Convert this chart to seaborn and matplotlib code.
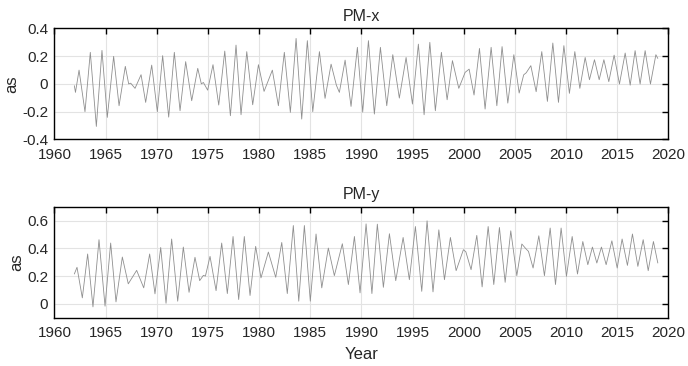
import warnings
warnings.filterwarnings("ignore")
import pandas as pd
import matplotlib
matplotlib.use("Agg")
import matplotlib.pyplot as plt
import seaborn as sns

# PM-x: turning points (year, arcsec)
pmx_year = [1961.94, 1962.05, 1962.40, 1962.98, 1963.50, 1964.09, 1964.64, 1965.16, 1965.78,
            1966.31, 1966.92, 1967.25, 1967.45, 1967.87, 1968.46, 1968.91, 1969.50, 1970.05,
            1970.57, 1971.16, 1971.71, 1972.27, 1972.82, 1973.41, 1974.00, 1974.35, 1974.55,
            1974.97, 1975.49, 1976.05, 1976.64, 1977.19, 1977.74, 1978.23, 1978.79, 1979.37,
            1979.93, 1980.48, 1981.29, 1981.88, 1982.46, 1983.05, 1983.61, 1984.16, 1984.71,
            1985.24, 1985.89, 1986.44, 1987.03, 1987.55, 1987.84, 1988.40, 1988.98, 1989.60,
            1990.12, 1990.68, 1991.26, 1991.85, 1992.47, 1993.06, 1993.70, 1994.36, 1994.98,
            1995.56, 1996.12, 1996.68, 1997.22, 1997.81, 1998.37, 1998.89, 1999.51, 2000.13,
            2000.52, 2001.00, 2001.53, 2002.08, 2002.67, 2003.23, 2003.74, 2004.30, 2004.89,
            2005.41, 2005.85, 2006.10, 2006.55, 2007.07, 2007.62, 2008.17, 2008.70, 2009.25,
            2009.78, 2010.32, 2010.85, 2011.34, 2011.86, 2012.28, 2012.77, 2013.23, 2013.69,
            2014.17, 2014.69, 2015.21, 2015.77, 2016.26, 2016.74, 2017.23, 2017.72, 2018.24,
            2018.77, 2018.96]
pmx_val = [-0.013, -0.061, 0.099, -0.200, 0.227, -0.306, 0.241, -0.241, 0.198,
           -0.157, 0.126, 0.000, 0.005, -0.032, 0.066, -0.133, 0.135, -0.200,
           0.203, -0.239, 0.227, -0.193, 0.160, -0.121, 0.112, 0.000, 0.010,
           -0.045, 0.138, -0.152, 0.236, -0.229, 0.279, -0.222, 0.232, -0.150,
           0.138, -0.054, 0.099, -0.157, 0.227, -0.205, 0.327, -0.253, 0.311,
           -0.200, 0.232, -0.104, 0.142, -0.010, -0.061, 0.171, -0.162, 0.263,
           -0.203, 0.311, -0.217, 0.263, -0.157, 0.210, -0.102, 0.190, -0.145,
           0.286, -0.222, 0.299, -0.193, 0.227, -0.114, 0.167, -0.032, 0.083,
           0.106, -0.080, 0.255, -0.181, 0.263, -0.157, 0.268, -0.138, 0.210,
           -0.066, 0.065, 0.080, 0.131, -0.056, 0.232, -0.126, 0.294, -0.133,
           0.275, -0.068, 0.232, -0.032, 0.190, 0.030, 0.174, 0.030, 0.174,
           0.016, 0.207, -0.001, 0.222, -0.009, 0.239, -0.001, 0.239, -0.001,
           0.210, 0.183]

# PM-y: turning points (year, arcsec)
pmy_year = [1961.94, 1962.20, 1962.72, 1963.24, 1963.76, 1964.35, 1964.94, 1965.49, 1966.01,
            1966.63, 1967.21, 1968.03, 1968.72, 1969.30, 1969.82, 1970.38, 1970.90, 1971.45,
            1972.04, 1972.59, 1973.15, 1973.73, 1974.19, 1974.55, 1974.75, 1975.20, 1975.79,
            1976.34, 1976.89, 1977.45, 1978.00, 1978.55, 1979.11, 1979.66, 1980.18, 1980.90,
            1981.62, 1982.21, 1982.75, 1983.34, 1983.87, 1984.42, 1985.00, 1985.56, 1986.12,
            1986.76, 1987.35, 1988.13, 1988.72, 1989.31, 1989.86, 1990.45, 1991.02, 1991.55,
            1992.14, 1992.73, 1993.35, 1994.07, 1994.68, 1995.27, 1995.89, 1996.41, 1996.99,
            1997.56, 1998.11, 1998.69, 1999.25, 1999.96, 2000.20, 2000.71, 2001.27, 2001.79,
            2002.38, 2002.93, 2003.48, 2004.04, 2004.59, 2005.18, 2005.67, 2006.09, 2006.32,
            2006.77, 2007.33, 2007.88, 2008.44, 2008.96, 2009.51, 2010.03, 2010.59, 2011.11,
            2011.63, 2012.12, 2012.57, 2013.00, 2013.45, 2013.91, 2014.47, 2014.99, 2015.47,
            2015.99, 2016.48, 2017.01, 2017.53, 2018.02, 2018.53, 2018.96]
pmy_val = [0.215, 0.263, 0.043, 0.359, -0.022, 0.462, -0.017, 0.438, 0.014,
           0.337, 0.144, 0.241, 0.115, 0.359, 0.072, 0.406, 0.004, 0.467,
           0.019, 0.409, 0.083, 0.335, 0.167, 0.205, 0.200, 0.342, 0.095,
           0.438, 0.074, 0.485, 0.031, 0.485, 0.060, 0.414, 0.187, 0.373,
           0.191, 0.442, 0.074, 0.564, 0.019, 0.564, 0.019, 0.503, 0.115,
           0.402, 0.203, 0.433, 0.139, 0.485, 0.079, 0.576, 0.074, 0.574,
           0.119, 0.505, 0.167, 0.478, 0.174, 0.557, 0.090, 0.598, 0.086,
           0.533, 0.174, 0.478, 0.239, 0.390, 0.375, 0.246, 0.493, 0.122,
           0.557, 0.139, 0.550, 0.155, 0.526, 0.203, 0.431, 0.395, 0.378,
           0.258, 0.490, 0.203, 0.546, 0.139, 0.546, 0.198, 0.485, 0.215,
           0.449, 0.282, 0.409, 0.294, 0.409, 0.282, 0.454, 0.258, 0.467,
           0.277, 0.503, 0.270, 0.462, 0.239, 0.449, 0.294]

year_ticks = list(range(1960, 2021, 5))

sns.set_style("white")
plt.rcParams['font.family'] = ['Liberation Sans', 'DejaVu Sans']
plt.rcParams['xtick.direction'] = 'in'
plt.rcParams['ytick.direction'] = 'in'

fig = plt.figure(figsize=(6.88, 3.66), dpi=100)
ax1 = fig.add_axes([0.0792, 0.6189, 0.8924, 0.3038])
ax2 = fig.add_axes([0.0792, 0.1320, 0.8924, 0.3033])

dfx = pd.DataFrame({'year': pmx_year, 'as': pmx_val})
dfy = pd.DataFrame({'year': pmy_year, 'as': pmy_val})

panels = [(ax1, dfx, 'PM-x', (-0.4, 0.4), [-0.4, -0.2, 0, 0.2, 0.4], ['-0.4', '-0.2', '0', '0.2', '0.4']),
          (ax2, dfy, 'PM-y', (-0.1, 0.7), [0, 0.2, 0.4, 0.6], ['0', '0.2', '0.4', '0.6'])]

for ax, d, title, ylim, yt, ytl in panels:
    sns.lineplot(data=d, x='year', y='as', ax=ax, color='#8f8f8f', linewidth=0.6,
                 estimator=None, solid_joinstyle='round')
    ax.set_xlim(1960, 2020)
    ax.set_ylim(*ylim)
    ax.set_xticks(year_ticks)
    ax.set_yticks(yt)
    ax.set_yticklabels(ytl)
    ax.grid(True, color='#e3e3e3', linewidth=0.8)
    ax.set_axisbelow(True)
    ax.tick_params(axis='both', labelsize=11, length=4, width=1, top=True, right=True, color='black')
    ax.tick_params(axis='x', pad=6)
    ax.tick_params(axis='y', pad=4.5)
    for s in ax.spines.values():
        s.set_color('black')
        s.set_linewidth(1)
    ax.set_title(title, fontsize=11.5, pad=5.5)
    ax.set_ylabel('as', fontsize=12, labelpad=2)
    ax.set_xlabel('')

ax2.set_xlabel('Year', fontsize=12, labelpad=5)

fig.savefig('out.png', dpi=100)
